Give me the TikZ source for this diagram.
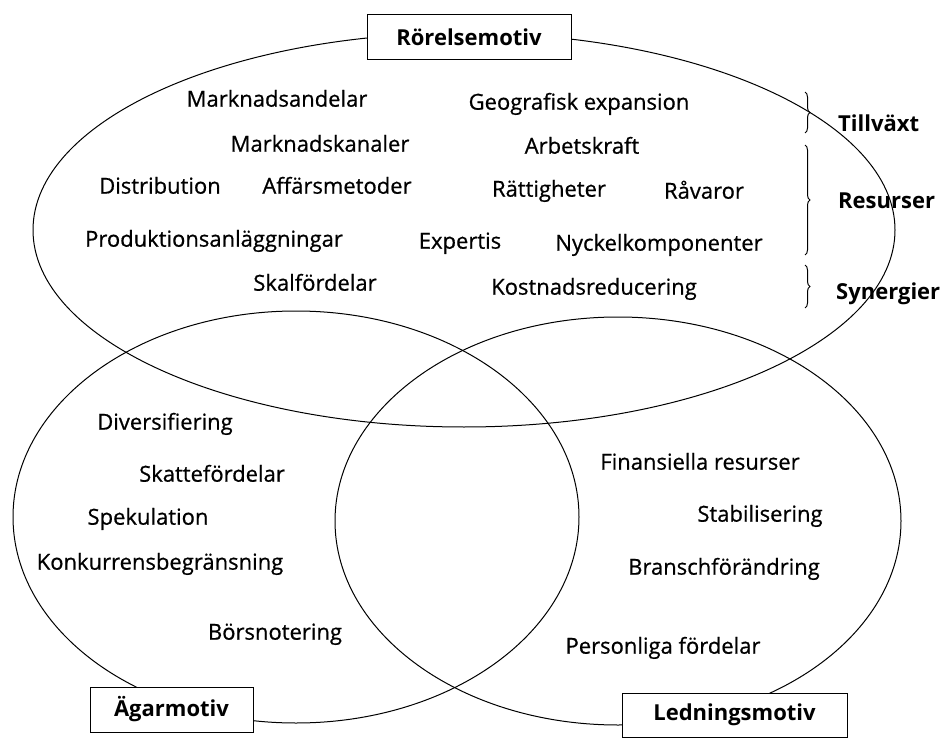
\documentclass[tikz,border=0pt]{standalone}
\usepackage{fontspec}
\setmainfont{Open Sans}
\newfontfamily\itemfont{Open Sans}[FakeBold=0.7]
\usetikzlibrary{decorations.pathreplacing}
\begin{document}
\begin{tikzpicture}[x=1pt,y=-1pt,
  item/.style={font=\itemfont\fontsize{22}{26}\selectfont, inner sep=0pt, anchor=mid, yshift=-4pt},
  grp/.style={font=\bfseries\fontsize{22}{26}\selectfont, inner sep=0pt, anchor=mid west, yshift=-4pt},
  motive/.style={draw, fill=white, line width=1pt, font=\bfseries\fontsize{22}{26}\selectfont, inner sep=0pt},
  ring/.style={line width=1pt},
  grpbrace/.style={decorate, decoration={brace, amplitude=5pt}, line width=1pt}]
\useasboundingbox (0,0) rectangle (948,738);

% the three motive areas
\draw[ring] (464,230) ellipse [x radius=431pt, y radius=197pt];
\draw[ring] (296,517) ellipse [x radius=283pt, y radius=206pt];
\draw[ring] (618,521) ellipse [x radius=283pt, y radius=204pt];

% titles of the areas
\node[motive, minimum width=204pt, minimum height=45pt] (rorelse) at (469,37.5) {Rörelsemotiv};
\node[motive, minimum width=163pt, minimum height=45pt] (agar) at (171.5,709.5) {Ägarmotiv};
\node[motive, minimum width=225pt, minimum height=44pt] (ledning) at (734.5,715) {Ledningsmotiv};

% operational motives
\node[item] (m1) at (277,100) {Marknadsandelar};
\node[item] (m2) at (579,103) {Geografisk expansion};
\node[item] (m3) at (320,145) {Marknadskanaler};
\node[item] (m4) at (582,147) {Arbetskraft};
\node[item] (m5) at (160,187) {Distribution};
\node[item] (m6) at (337,187) {Affärsmetoder};
\node[item] (m7) at (549,190) {Rättigheter};
\node[item] (m8) at (704,192) {Råvaror};
\node[item] (m9) at (214,240) {Produktionsanläggningar};
\node[item] (m10) at (460,242) {Expertis};
\node[item] (m11) at (659,244) {Nyckelkomponenter};
\node[item] (m12) at (315,284) {Skalfördelar};
\node[item] (m13) at (594,288) {Kostnadsreducering};

% groups
\coordinate (b1t) at (805,92);  \coordinate (b1b) at (805,133);
\coordinate (b2t) at (805,145); \coordinate (b2b) at (805,255);
\coordinate (b3t) at (805,265); \coordinate (b3b) at (805,308);
\draw[grpbrace] (b1t) -- (b1b);
\draw[grpbrace] (b2t) -- (b2b);
\draw[grpbrace] (b3t) -- (b3b);
\node[grp] (g1) at (838,125) {Tillväxt};
\node[grp] (g2) at (838,202) {Resurser};
\node[grp] (g3) at (836,293) {Synergier};

% owner motives
\node[item] (a1) at (165,423) {Diversifiering};
\node[item] (a2) at (212,475) {Skattefördelar};
\node[item] (a3) at (148,518) {Spekulation};
\node[item] (a4) at (160,563) {Konkurrensbegränsning};
\node[item] (a5) at (275,633) {Börsnotering};

% management motives
\node[item] (l1) at (700,463) {Finansiella resurser};
\node[item] (l2) at (760,515) {Stabilisering};
\node[item] (l3) at (724,568) {Branschförändring};
\node[item] (l4) at (663,647) {Personliga fördelar};
\end{tikzpicture}
\end{document}
